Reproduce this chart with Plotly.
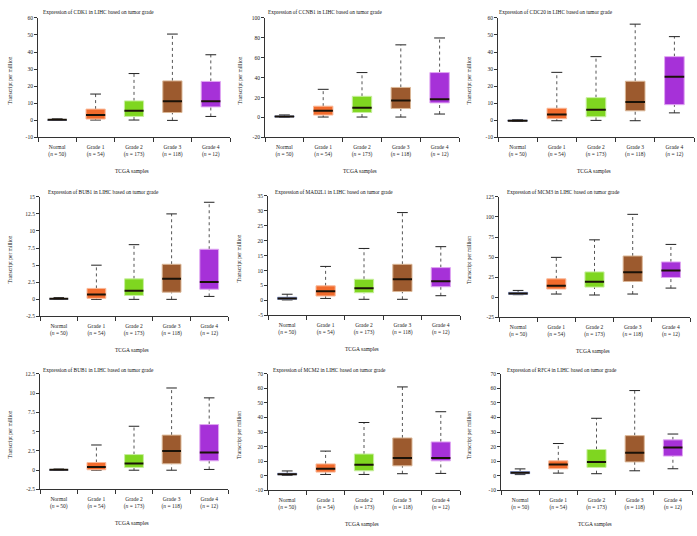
import plotly.graph_objects as go

W, H = 697, 536

CATEGORIES = ["Normal", "Grade 1", "Grade 2", "Grade 3", "Grade 4"]
N_SAMPLES = [50, 54, 173, 118, 12]
FILLS = ["#1e2b6f", "#f26b2c", "#7fd620", "#9c5a2e", "#a631d8"]
OUTLINES = ["#93a6dc", "#f9b898", "#c8ef9f", "#dbb797", "#e0a6f2"]

GENES = ["CDK1", "CCNB1", "CDC20", "BUB1", "MAD2L1", "MCM3", "BUB1", "MCM2", "RFC4"]

# per gene: lower whisker, q1, median, q3, upper whisker (Normal, Grade 1..4)
CDK1_LOW = [0.0, 0.2, 0.2, 0.0, 2.3]
CDK1_Q1 = [0.1, 0.8, 2.3, 4.6, 7.9]
CDK1_MED = [0.3, 3.1, 5.6, 11.2, 11.2]
CDK1_Q3 = [0.5, 6.6, 11.4, 23.1, 22.8]
CDK1_UP = [0.9, 15.4, 27.4, 50.5, 38.4]

CCNB1_LOW = [0.3, 0.5, 0.5, 0.5, 3.5]
CCNB1_Q1 = [0.5, 2.5, 5.1, 9.1, 14.7]
CCNB1_MED = [1.0, 6.8, 9.8, 17.0, 18.3]
CCNB1_Q3 = [1.6, 11.4, 21.3, 30.2, 45.1]
CCNB1_UP = [2.6, 28.3, 45.1, 72.9, 79.8]

CDC20_LOW = [-0.6, -0.2, 0.0, -0.2, 4.4]
CDC20_Q1 = [-0.4, 1.0, 2.1, 5.6, 9.2]
CDC20_MED = [-0.2, 3.5, 6.2, 10.8, 25.6]
CDC20_Q3 = [0.1, 7.1, 13.3, 22.9, 37.3]
CDC20_UP = [0.4, 28.1, 37.3, 56.3, 49.0]

BUB1_A_LOW = [0.0, 0.0, 0.0, 0.0, 0.43]
BUB1_A_Q1 = [0.05, 0.15, 0.57, 1.05, 1.48]
BUB1_A_MED = [0.1, 0.7, 1.25, 3.0, 2.54]
BUB1_A_Q3 = [0.15, 1.6, 3.0, 5.13, 7.33]
BUB1_A_UP = [0.25, 5.0, 8.0, 12.5, 14.2]

MAD2L1_LOW = [0.2, 0.7, 0.4, 0.4, 1.6]
MAD2L1_Q1 = [0.4, 1.5, 2.6, 3.0, 4.6]
MAD2L1_MED = [0.7, 3.1, 4.1, 7.1, 6.4]
MAD2L1_Q3 = [1.1, 4.9, 7.1, 12.1, 11.0]
MAD2L1_UP = [2.1, 11.4, 17.4, 29.4, 18.0]

MCM3_LOW = [3.3, 4.1, 2.9, 4.1, 11.5]
MCM3_Q1 = [3.7, 10.3, 12.7, 19.7, 24.7]
MCM3_MED = [4.9, 14.4, 19.3, 31.2, 33.3]
MCM3_Q3 = [6.2, 23.0, 31.6, 51.4, 44.0]
MCM3_UP = [8.6, 49.7, 71.5, 103.2, 65.8]

BUB1_B_LOW = [0.0, 0.0, 0.0, 0.0, 0.1]
BUB1_B_Q1 = [0.02, 0.06, 0.36, 0.83, 1.22]
BUB1_B_MED = [0.05, 0.4, 0.88, 2.5, 2.29]
BUB1_B_Q3 = [0.1, 1.0, 2.03, 4.55, 5.92]
BUB1_B_UP = [0.15, 3.27, 5.7, 10.66, 9.38]

MCM2_LOW = [0.4, 1.0, 1.0, 1.5, 1.7]
MCM2_Q1 = [0.8, 2.6, 3.5, 6.9, 10.3]
MCM2_MED = [1.2, 4.9, 7.6, 12.3, 12.3]
MCM2_Q3 = [1.8, 8.2, 15.0, 26.0, 23.3]
MCM2_UP = [3.4, 17.0, 36.6, 61.0, 44.0]

RFC4_LOW = [0.9, 1.9, 1.5, 3.5, 4.9]
RFC4_Q1 = [1.5, 4.9, 5.8, 9.6, 13.6]
RFC4_MED = [2.2, 7.8, 9.6, 15.9, 19.5]
RFC4_Q3 = [3.0, 10.3, 18.1, 27.6, 24.7]
RFC4_UP = [4.8, 22.2, 39.5, 58.5, 28.7]

STATS = [
    (CDK1_LOW, CDK1_Q1, CDK1_MED, CDK1_Q3, CDK1_UP),
    (CCNB1_LOW, CCNB1_Q1, CCNB1_MED, CCNB1_Q3, CCNB1_UP),
    (CDC20_LOW, CDC20_Q1, CDC20_MED, CDC20_Q3, CDC20_UP),
    (BUB1_A_LOW, BUB1_A_Q1, BUB1_A_MED, BUB1_A_Q3, BUB1_A_UP),
    (MAD2L1_LOW, MAD2L1_Q1, MAD2L1_MED, MAD2L1_Q3, MAD2L1_UP),
    (MCM3_LOW, MCM3_Q1, MCM3_MED, MCM3_Q3, MCM3_UP),
    (BUB1_B_LOW, BUB1_B_Q1, BUB1_B_MED, BUB1_B_Q3, BUB1_B_UP),
    (MCM2_LOW, MCM2_Q1, MCM2_MED, MCM2_Q3, MCM2_UP),
    (RFC4_LOW, RFC4_Q1, RFC4_MED, RFC4_Q3, RFC4_UP),
]

# y-axis tick values per panel
Y_TICKS = [
    [-10, 0, 10, 20, 30, 40, 50, 60],
    [-20, 0, 20, 40, 60, 80, 100],
    [-10, 0, 10, 20, 30, 40, 50, 60],
    [-2.5, 0, 2.5, 5, 7.5, 10, 12.5, 15],
    [-5, 0, 5, 10, 15, 20, 25, 30, 35],
    [-25, 0, 25, 50, 75, 100, 125],
    [-2.5, 0, 2.5, 5, 7.5, 10, 12.5],
    [-10, 0, 10, 20, 30, 40, 50, 60, 70],
    [-10, 0, 10, 20, 30, 40, 50, 60, 70],
]

# layout: plot area pixel boxes (x0, x1, ytop, ybottom)
BOXES = [
    (38, 230, 15, 136), (265, 459, 15, 136), (498, 694, 15, 136),
    (40, 228, 196, 317), (268, 460, 195, 316), (499, 690, 196, 318),
    (40, 228, 375, 492), (268, 460, 375, 493), (501, 692, 375, 493),
]
TITLE_POS = [
    (41, 9), (266, 9), (497, 9),
    (46, 191), (273, 191), (505, 191),
    (41, 371), (271, 371), (505, 371),
]
YTITLE_X = [10, 240, 469, 10, 239, 469, 10, 239, 469]

SERIF = "Liberation Serif, Times New Roman, serif"
AX = "#333333"

fig = go.Figure()

def fmt(v):
    return str(int(v)) if float(v).is_integer() else str(v)

HALF = 0.25
CAP = 0.14
tick_labels = [f"{c}<br>(<i>n</i> = {n})" for c, n in zip(CATEGORIES, N_SAMPLES)]

for p, (gene, stats, yt, box) in enumerate(zip(GENES, STATS, Y_TICKS, BOXES)):
    sfx = "" if p == 0 else str(p + 1)
    xa, ya = "x" + sfx, "y" + sfx
    low, q1, med, q3, up = stats
    for i in range(len(CATEGORIES)):
        # whiskers (dotted)
        fig.add_trace(go.Scatter(x=[i, i], y=[q3[i], up[i]], xaxis=xa, yaxis=ya, mode="lines",
                                 line=dict(color="#555555", width=1, dash="dot"), hoverinfo="skip", showlegend=False))
        fig.add_trace(go.Scatter(x=[i, i], y=[low[i], q1[i]], xaxis=xa, yaxis=ya, mode="lines",
                                 line=dict(color="#555555", width=1, dash="dot"), hoverinfo="skip", showlegend=False))
        # caps
        for v in (up[i], low[i]):
            fig.add_trace(go.Scatter(x=[i - CAP, i + CAP], y=[v, v], xaxis=xa, yaxis=ya, mode="lines",
                                     line=dict(color="#222222", width=1), hoverinfo="skip", showlegend=False))
        # box
        fig.add_trace(go.Scatter(x=[i - HALF, i + HALF, i + HALF, i - HALF, i - HALF],
                                 y=[q1[i], q1[i], q3[i], q3[i], q1[i]], xaxis=xa, yaxis=ya,
                                 mode="lines", fill="toself", fillcolor=FILLS[i],
                                 line=dict(color=OUTLINES[i], width=1), hoverinfo="skip", showlegend=False))
        # median
        fig.add_trace(go.Scatter(x=[i - HALF, i + HALF], y=[med[i], med[i]], xaxis=xa, yaxis=ya, mode="lines",
                                 line=dict(color="#1a1208", width=2), hoverinfo="skip", showlegend=False))

    x0, x1, yt0, yb0 = box
    xdom = [x0 / W, x1 / W]
    ydom = [1 - yb0 / H, 1 - yt0 / H]
    fig.layout["xaxis" + sfx] = dict(
        domain=xdom, anchor=ya, range=[-0.5, len(CATEGORIES) - 0.5],
        tickmode="array", tickvals=list(range(len(CATEGORIES))), ticktext=tick_labels,
        ticks="", showgrid=False, zeroline=False, showline=True, linecolor=AX, linewidth=1,
        tickfont=dict(family=SERIF, size=5.5, color="#222"), ticklabelstandoff=4,
        minor=dict(tickmode="array", tickvals=[k - 0.5 for k in range(len(CATEGORIES) + 1)],
                   ticks="outside", ticklen=4, tickcolor=AX, tickwidth=1, showgrid=False),
        fixedrange=True,
    )
    fig.layout["yaxis" + sfx] = dict(
        domain=ydom, anchor=xa, range=[yt[0], yt[-1]],
        tickmode="array", tickvals=yt, ticktext=[fmt(v) for v in yt],
        ticks="outside", ticklen=3, tickcolor=AX, showgrid=False, zeroline=False,
        showline=True, linecolor=AX, linewidth=1,
        tickfont=dict(family=SERIF, size=5.5, color="#222"), fixedrange=True,
    )
    tx, ty = TITLE_POS[p]
    fig.add_annotation(text=f"Expression of {gene} in LIHC based on tumor grade", xref="paper", yref="paper",
                       x=tx / W, y=1 - ty / H, xanchor="left", yanchor="middle", showarrow=False,
                       font=dict(family=SERIF, size=5.3, color="#111"))
    fig.add_annotation(text="Transcript per million", xref="paper", yref="paper", textangle=-90,
                       x=YTITLE_X[p] / W, y=1 - ((yt0 + yb0) / 2 + 3) / H, xanchor="center", yanchor="middle",
                       showarrow=False, font=dict(family=SERIF, size=5.5, color="#111"))
    fig.add_annotation(text="TCGA samples", xref="paper", yref="paper",
                       x=((x0 + x1) / 2 - 2) / W, y=1 - (yb0 + 34) / H, xanchor="center", yanchor="middle",
                       showarrow=False, font=dict(family=SERIF, size=5.5, color="#111"))

fig.update_layout(width=W, height=H, margin=dict(l=0, r=0, t=0, b=0),
                  paper_bgcolor="white", plot_bgcolor="white", showlegend=False)
fig.write_html("out.html", config={"displayModeBar": False},
               post_script="document.body.style.margin='0px';document.body.style.overflow='hidden';")
